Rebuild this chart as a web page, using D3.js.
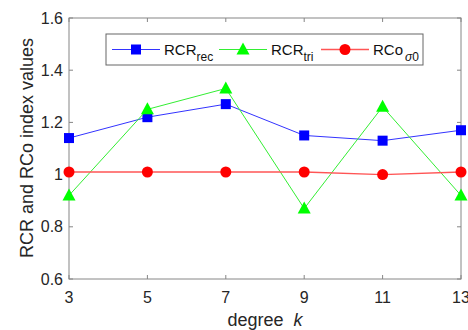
<!DOCTYPE html>
<html>
<head>
<meta charset="utf-8">
<script src="https://cdn.jsdelivr.net/npm/d3@7"></script>
<style>
  body { margin: 0; background: #fff; }
  text { font-family: "Liberation Sans", Arial, sans-serif; }
</style>
</head>
<body>
<svg id="chart" width="468" height="330"></svg>
<script>
// data
const degrees = [3, 5, 7, 9, 11, 13];
const rcrRec = [1.14, 1.22, 1.27, 1.15, 1.13, 1.17];
const rcrTri = [0.92, 1.25, 1.33, 0.87, 1.26, 0.92];
const rcoSigma = [1.01, 1.01, 1.01, 1.01, 1.00, 1.01];
const yTicks = [0.6, 0.8, 1, 1.2, 1.4, 1.6];

const svg = d3.select("#chart");
const m = {left: 69, right: 461, top: 18, bottom: 279};
const axisCol = "#868686", labelCol = "#262626";

const x = d3.scaleLinear().domain([3, 13]).range([m.left, m.right]);
const y = d3.scaleLinear().domain([0.6, 1.6]).range([m.bottom, m.top]);

// box + ticks (inward, matlab style)
const g = svg.append("g");
g.append("rect")
  .attr("x", m.left).attr("y", m.top)
  .attr("width", m.right - m.left).attr("height", m.bottom - m.top)
  .attr("fill", "none").attr("stroke", axisCol).attr("stroke-width", 1);

const tl = 4;
degrees.forEach(d => {
  [[m.bottom, -tl], [m.top, tl]].forEach(([yy, dy]) => {
    g.append("line").attr("x1", x(d)).attr("x2", x(d))
      .attr("y1", yy).attr("y2", yy + dy).attr("stroke", axisCol);
  });
  g.append("text").text(d)
    .attr("x", x(d)).attr("y", m.bottom + 23.5)
    .attr("text-anchor", "middle").attr("font-size", 16).attr("fill", labelCol);
});
yTicks.forEach(v => {
  [[m.left, tl], [m.right, -tl]].forEach(([xx, dx]) => {
    g.append("line").attr("x1", xx).attr("x2", xx + dx)
      .attr("y1", y(v)).attr("y2", y(v)).attr("stroke", axisCol);
  });
  g.append("text").text(v === 1 ? "1" : d3.format(".1f")(v))
    .attr("x", m.left - 6).attr("y", y(v)).attr("dy", "0.35em")
    .attr("text-anchor", "end").attr("font-size", 16).attr("fill", labelCol);
});

// axis labels
const xl = svg.append("text")
  .attr("x", 265).attr("y", 326)
  .attr("text-anchor", "middle").attr("font-size", 18).attr("fill", labelCol);
xl.append("tspan").text("degree\u00a0\u00a0");
xl.append("tspan").text("k").attr("font-style", "italic");

svg.append("text").text("RCR and RCo index values")
  .attr("transform", "translate(33,148) rotate(-90)")
  .attr("text-anchor", "middle").attr("font-size", 18).attr("fill", labelCol);

// series
const series = [
  {vals: rcrRec, col: "#0000ff", lineCol: "#3333ff", shape: "square", w: 1},
  {vals: rcrTri, col: "#00ff00", lineCol: "#33ee33", shape: "tri", w: 1},
  {vals: rcoSigma, col: "#ff0000", lineCol: "#ff5555", shape: "circle", w: 1.3}
];

function marker(sel, shape, col, cx, cy) {
  if (shape === "square") {
    sel.append("rect").attr("x", cx - 5).attr("y", cy - 5)
      .attr("width", 10).attr("height", 10).attr("fill", col);
  } else if (shape === "tri") {
    sel.append("path")
      .attr("d", `M${cx},${cy - 7}L${cx + 6.5},${cy + 5}L${cx - 6.5},${cy + 5}Z`)
      .attr("fill", col);
  } else {
    sel.append("circle").attr("cx", cx).attr("cy", cy).attr("r", 5.5).attr("fill", col);
  }
}

const line = d3.line().x((d, i) => x(degrees[i])).y(d => y(d));
series.forEach(s => {
  svg.append("path").datum(s.vals).attr("d", line)
    .attr("fill", "none").attr("stroke", s.lineCol).attr("stroke-width", s.w);
  s.vals.forEach((v, i) => marker(svg, s.shape, s.col, x(degrees[i]), y(v)));
});

// legend
const lg = svg.append("g");
lg.append("rect").attr("x", 106).attr("y", 34).attr("width", 317).attr("height", 31)
  .attr("fill", "#fff").attr("stroke", "#666").attr("stroke-width", 1);
const legItems = [
  {x0: 112, main: "RCR", sub: "rec"},
  {x0: 219, main: "RCR", sub: "tri"},
  {x0: 321, main: "RCo", sub: "σ0"}
];
const ly = 49.5;
legItems.forEach((it, i) => {
  const s = series[i];
  lg.append("line").attr("x1", it.x0).attr("x2", it.x0 + 48)
    .attr("y1", ly).attr("y2", ly).attr("stroke", s.lineCol).attr("stroke-width", s.w);
  marker(lg, s.shape, s.col, it.x0 + 24, ly);
  const t = lg.append("text").attr("x", it.x0 + 52).attr("y", ly + 5.5)
    .attr("font-size", 15).attr("fill", "#111");
  t.append("tspan").text(it.main);
  if (it.sub === "σ0") {
    t.append("tspan").text("σ").attr("font-style", "italic").attr("font-size", 12)
      .attr("dy", 6).attr("dx", 2);
    t.append("tspan").text("0").attr("font-size", 12);
  } else {
    t.append("tspan").text(it.sub).attr("font-size", 12).attr("dy", 6);
  }
});
</script>
</body>
</html>
